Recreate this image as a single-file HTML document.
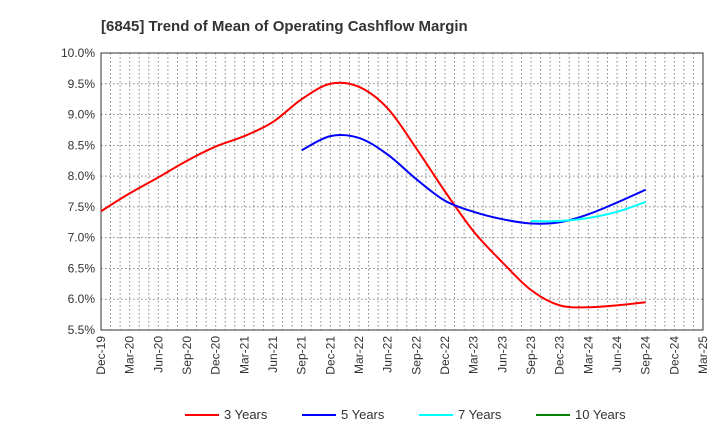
<!DOCTYPE html>
<html><head><meta charset="utf-8"><style>
body{margin:0;background:#fff;font-family:"Liberation Sans",sans-serif;}
svg text{font-family:"Liberation Sans",sans-serif;}
</style></head><body>
<svg id="c" width="720" height="440" xmlns="http://www.w3.org/2000/svg">
<text x="101" y="31" font-size="15" font-weight="bold" fill="#333">[6845]  Trend of Mean of Operating Cashflow Margin</text>
<g id="grid"></g><g id="axes"></g><g id="series"></g><g id="legend"></g>
</svg>
<script>
const categories=["Dec-19","Mar-20","Jun-20","Sep-20","Dec-20","Mar-21","Jun-21","Sep-21","Dec-21","Mar-22","Jun-22","Sep-22","Dec-22","Mar-23","Jun-23","Sep-23","Dec-23","Mar-24","Jun-24","Sep-24","Dec-24","Mar-25"];
const yTicks=[5.5,6.0,6.5,7.0,7.5,8.0,8.5,9.0,9.5,10.0];
const s3=[7.43,7.72,7.98,8.25,8.48,8.65,8.88,9.25,9.50,9.45,9.10,8.45,7.75,7.10,6.60,6.15,5.90,5.87,5.90,5.95];
const s5=[null,null,null,null,null,null,null,8.42,8.65,8.62,8.35,7.95,7.60,7.42,7.30,7.23,7.25,7.38,7.57,7.78];
const s7=[null,null,null,null,null,null,null,null,null,null,null,null,null,null,null,7.27,7.27,7.32,7.42,7.58];
const s10=[];
const seriesNames=["3 Years","5 Years","7 Years","10 Years"];
const colors=["#ff0000","#0000ff","#00ffff","#008000"];
const L=101,R=703,T=53,B=330,ymin=5.5,ymax=10;
const NS="http://www.w3.org/2000/svg";
const xs=i=>L+i*(R-L)/(categories.length-1);
const ys=v=>B-(v-ymin)/(ymax-ymin)*(B-T);
function mk(tag,attrs,parent){const e=document.createElementNS(NS,tag);for(const k in attrs)e.setAttribute(k,attrs[k]);parent.appendChild(e);return e;}
const grid=document.getElementById('grid'),axes=document.getElementById('axes'),ser=document.getElementById('series'),leg=document.getElementById('legend');
for(let m=1;m<(categories.length-1)*3;m++){const x=L+m*(R-L)/((categories.length-1)*3);
const g=mk('line',{x1:x,x2:x,y1:T,y2:B,stroke:'#888','stroke-dasharray':'1.5,2.5','stroke-width':1},grid);

}
yTicks.forEach(v=>{const y=ys(v);
if(v>ymin&&v<ymax){const g=mk('line',{x1:L,x2:R,y1:y,y2:y,stroke:'#888','stroke-dasharray':'1.5,2.5'},grid);

}
const t=mk('text',{x:L-6,y:y+4,'font-size':12,'text-anchor':'end',fill:'#333'},axes);t.textContent=v.toFixed(1)+'%';

});
const fr=mk('rect',{x:L,y:T,width:R-L,height:B-T,fill:'none',stroke:'#333','stroke-width':1},axes);


categories.forEach((c,i)=>{const x=xs(i);const t=mk('text',{transform:`translate(${x+4},${B+6}) rotate(-90)`,'font-size':12,'text-anchor':'end',fill:'#333'},axes);t.textContent=c;

});
function path(arr){const p=[];arr.forEach((v,i)=>{if(v!=null)p.push([xs(i),ys(v)]);});if(p.length<2)return '';
let d=`M${p[0][0]},${p[0][1]}`;for(let i=0;i<p.length-1;i++){const p0=p[i-1]||p[i],p1=p[i],p2=p[i+1],p3=p[i+2]||p2;
d+=` C${p1[0]+(p2[0]-p0[0])/6},${p1[1]+(p2[1]-p0[1])/6} ${p2[0]-(p3[0]-p1[0])/6},${p2[1]-(p3[1]-p1[1])/6} ${p2[0]},${p2[1]}`;}return d;}
[s3,s5,s7,s10].forEach((s,k)=>{const d=path(s);if(!d)return;const e=mk('path',{d:d,fill:'none',stroke:colors[k],'stroke-width':2},ser);

});
const lx=[185,302,419,536];
seriesNames.forEach((n,k)=>{const g=mk('g',{},leg);


mk('line',{x1:lx[k],x2:lx[k]+34,y1:415,y2:415,stroke:colors[k],'stroke-width':2},g);
const t=mk('text',{x:lx[k]+39,y:419,'font-size':13,fill:'#333'},g);t.textContent=n;});
</script>
</body></html>
